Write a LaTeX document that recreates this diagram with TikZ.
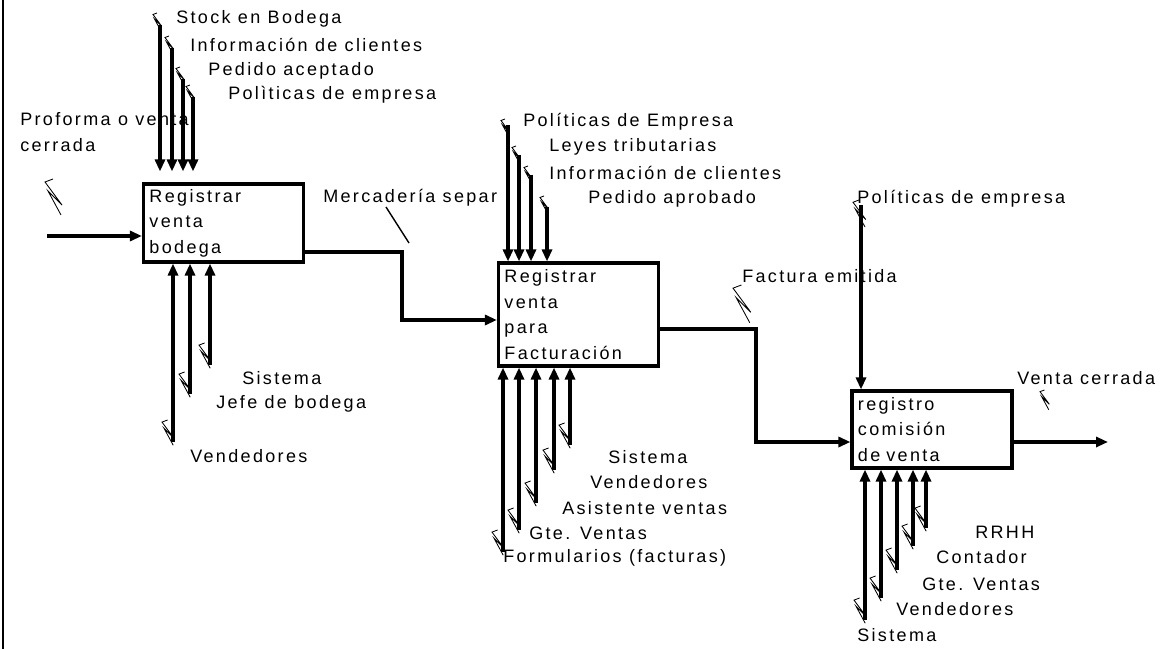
\documentclass[tikz,border=0pt]{standalone}
\usepackage{fontspec}
\setmainfont[LetterSpace=13]{Liberation Sans}
\usetikzlibrary{arrows.meta,positioning}

\begin{document}
\begin{tikzpicture}[x=0.025cm, y=-0.025cm,
  font=\fontsize{12.8}{18.2}\selectfont,
  proc/.style={draw, line width=2.2pt, align=left, text width=3.7cm,
               inner xsep=0.15cm, inner ysep=0pt},
  arr/.style={-{Triangle[length=0.3cm,width=0.25cm]}, line width=2.4pt},
  lbl/.style={anchor=west, inner sep=0pt},
  squig/.pic={\draw[line width=0.6pt] (8,0) -- (0,3) -- (17,26) -- (3,12) -- (16,36);}]
\useasboundingbox (0,0) rectangle (1163,649);
\draw[line width=2pt] (3,0) -- (3,649);
% activity boxes
\node[proc, minimum height=1.95cm]  (b1) at (223.5,223) {Registrar\\venta\\bodega};
\node[proc, minimum height=2.575cm] (b2) at (578.5,314.5) {Registrar\\venta\\para\\Facturación};
\node[proc, minimum height=1.925cm] (b3) at (932,429.5) {registro\\comisión\\de venta};
% input and outputs
\coordinate (in1) at (47,236);
\draw[arr] (in1) -- (in1 -| b1.west);
\node[lbl, align=left] (lin) at (20,132) {Proforma o venta\\cerrada};
\pic at (45,179) {squig};
\draw[arr] ([yshift=-0.725cm]b1.east) -- ++(97,0) |- ([yshift=-0.1375cm]b2.west);
\node[lbl] (lsep) at (323,198) {Mercadería separ};
\draw[line width=1pt] (386,207) -- (409,243);
\draw[arr] ([yshift=-0.3625cm]b2.east) -- ++(96,0) |- ([yshift=-0.3125cm]b3.west);
\node[lbl] (lfac) at (742,276) {Factura emitida};
\pic[scale=1.05] at (733,285) {squig};
\coordinate (out3) at (1108,442);
\draw[arr] (out3 -| b3.east) -- (out3);
\node[lbl] (lout) at (1017,378) {Venta cerrada};
\pic[scale=0.55] at (1040,390) {squig};
% controls of box 1
\coordinate (k11) at (160,25);
\coordinate (k12) at (172,48);
\coordinate (k13) at (183,79);
\coordinate (k14) at (193,97);
\draw[arr, shorten >=0.275cm] (k11) -- (k11 |- b1.north);
\draw[arr, shorten >=0.275cm] (k12) -- (k12 |- b1.north);
\draw[arr, shorten >=0.275cm] (k13) -- (k13 |- b1.north);
\draw[arr, shorten >=0.275cm] (k14) -- (k14 |- b1.north);
\pic[scale=0.5] at (153,13) {squig};
\pic[scale=0.5] at (165,36) {squig};
\pic[scale=0.5] at (176,67) {squig};
\pic[scale=0.5] at (186,85) {squig};
\node[lbl] (lk11) at (176,19) {Stock en Bodega};
\node[lbl] (lk12) at (190,45) {Información de clientes};
\node[lbl] (lk13) at (208,71) {Pedido aceptado};
\node[lbl] (lk14) at (228,95) {Polìticas de empresa};
% mechanisms of box 1
\coordinate (m11) at (173,442);
\coordinate (m12) at (190,394);
\coordinate (m13) at (210,365);
\draw[arr] (m11) -- (m11 |- b1.south);
\draw[arr] (m12) -- (m12 |- b1.south);
\draw[arr] (m13) -- (m13 |- b1.south);
\pic[scale=0.7] at (162,420) {squig};
\pic[scale=0.7] at (179,372) {squig};
\pic[scale=0.7] at (199,343) {squig};
\node[lbl] (lm13) at (242,378) {Sistema};
\node[lbl] (lm12) at (216,404) {Jefe de bodega};
\node[lbl] (lm11) at (190,456) {Vendedores};
% controls of box 2
\coordinate (k21) at (508,125);
\coordinate (k22) at (519,155);
\coordinate (k23) at (531,175);
\coordinate (k24) at (547,207);
\draw[arr] (k21) -- (k21 |- b2.north);
\draw[arr] (k22) -- (k22 |- b2.north);
\draw[arr] (k23) -- (k23 |- b2.north);
\draw[arr] (k24) -- (k24 |- b2.north);
\pic[scale=0.5] at (501,119) {squig};
\pic[scale=0.5] at (512,146) {squig};
\pic[scale=0.5] at (524,166) {squig};
\pic[scale=0.5] at (540,196) {squig};
\node[lbl] (lk21) at (523,122) {Políticas de Empresa};
\node[lbl] (lk22) at (549,147) {Leyes tributarias};
\node[lbl] (lk23) at (549,173) {Información de clientes};
\node[lbl] (lk24) at (588,199) {Pedido aprobado};
% mechanisms of box 2
\coordinate (m21) at (503,552);
\coordinate (m22) at (519,530);
\coordinate (m23) at (536,503);
\coordinate (m24) at (554,470);
\coordinate (m25) at (570,445);
\draw[arr] (m21) -- (m21 |- b2.south);
\draw[arr] (m22) -- (m22 |- b2.south);
\draw[arr] (m23) -- (m23 |- b2.south);
\draw[arr] (m24) -- (m24 |- b2.south);
\draw[arr] (m25) -- (m25 |- b2.south);
\pic[scale=0.7] at (492,530) {squig};
\pic[scale=0.7] at (508,508) {squig};
\pic[scale=0.7] at (525,481) {squig};
\pic[scale=0.7] at (543,448) {squig};
\pic[scale=0.7] at (559,423) {squig};
\node[lbl] (lm25) at (608,457) {Sistema};
\node[lbl] (lm24) at (590,482) {Vendedores};
\node[lbl] (lm23) at (562,508) {Asistente ventas};
\node[lbl] (lm22) at (529,533) {Gte. Ventas};
\node[lbl] (lm21) at (503,558) {Formularios (facturas)};
% control and mechanisms of box 3
\coordinate (k31) at (861,205);
\draw[arr] (k31) -- (k31 |- b3.north);
\pic[scale=0.75] at (853,200) {squig};
\node[lbl] (lk31) at (857,199) {Políticas de empresa};
\coordinate (m31) at (865,620);
\coordinate (m32) at (881,598);
\coordinate (m33) at (897,570);
\coordinate (m34) at (913,546);
\coordinate (m35) at (926,528);
\draw[arr] (m31) -- (m31 |- b3.south);
\draw[arr] (m32) -- (m32 |- b3.south);
\draw[arr] (m33) -- (m33 |- b3.south);
\draw[arr] (m34) -- (m34 |- b3.south);
\draw[arr] (m35) -- (m35 |- b3.south);
\pic[scale=0.7] at (854,598) {squig};
\pic[scale=0.7] at (870,576) {squig};
\pic[scale=0.7] at (886,548) {squig};
\pic[scale=0.7] at (902,524) {squig};
\pic[scale=0.7] at (915,506) {squig};
\node[lbl] (lm35) at (975,532) {RRHH};
\node[lbl] (lm34) at (936,557) {Contador};
\node[lbl] (lm33) at (922,584) {Gte. Ventas};
\node[lbl] (lm32) at (896,609) {Vendedores};
\node[lbl] (lm31) at (857,635) {Sistema};
\end{tikzpicture}
\end{document}
